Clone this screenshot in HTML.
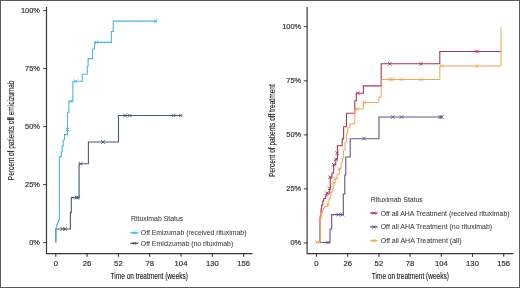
<!DOCTYPE html>
<html><head><meta charset="utf-8"><style>
html,body{margin:0;padding:0;background:#fff;}
body{width:520px;height:288px;overflow:hidden;}
.frame{position:absolute;left:0;top:0;width:518px;height:286px;border:1px solid #5a5a5a;}
svg{filter:blur(0.3px);position:absolute;left:0;top:0;font-family:"Liberation Sans", sans-serif;will-change:transform;-webkit-font-smoothing:antialiased;}
</style></head><body>
<svg width="520" height="288" viewBox="0 0 520 288">
<path d="M46.5,7V253.7H252.5" stroke="#383838" stroke-width="1.2" fill="none"/>
<path d="M43.2,10.6H46.5" stroke="#383838" stroke-width="1" fill="none"/>
<text x="39.9" y="13.1" text-anchor="end" font-size="7.4" fill="#333" stroke="#333" stroke-width="0.2">100%</text>
<path d="M43.2,68.6H46.5" stroke="#383838" stroke-width="1" fill="none"/>
<text x="39.9" y="71.1" text-anchor="end" font-size="7.4" fill="#333" stroke="#333" stroke-width="0.2">75%</text>
<path d="M43.2,126.6H46.5" stroke="#383838" stroke-width="1" fill="none"/>
<text x="39.9" y="129.1" text-anchor="end" font-size="7.4" fill="#333" stroke="#333" stroke-width="0.2">50%</text>
<path d="M43.2,184.6H46.5" stroke="#383838" stroke-width="1" fill="none"/>
<text x="39.9" y="187.1" text-anchor="end" font-size="7.4" fill="#333" stroke="#333" stroke-width="0.2">25%</text>
<path d="M43.2,242.6H46.5" stroke="#383838" stroke-width="1" fill="none"/>
<text x="39.9" y="245.1" text-anchor="end" font-size="7.4" fill="#333" stroke="#333" stroke-width="0.2">0%</text>
<path d="M55.80,253.7V256.8" stroke="#383838" stroke-width="1.1" fill="none"/>
<text x="55.80" y="266.2" text-anchor="middle" font-size="7.7" fill="#333" stroke="#333" stroke-width="0.2">0</text>
<path d="M87.10,253.7V256.8" stroke="#383838" stroke-width="1.1" fill="none"/>
<text x="87.10" y="266.2" text-anchor="middle" font-size="7.7" fill="#333" stroke="#333" stroke-width="0.2">26</text>
<path d="M118.40,253.7V256.8" stroke="#383838" stroke-width="1.1" fill="none"/>
<text x="118.40" y="266.2" text-anchor="middle" font-size="7.7" fill="#333" stroke="#333" stroke-width="0.2">52</text>
<path d="M149.70,253.7V256.8" stroke="#383838" stroke-width="1.1" fill="none"/>
<text x="149.70" y="266.2" text-anchor="middle" font-size="7.7" fill="#333" stroke="#333" stroke-width="0.2">78</text>
<path d="M181.00,253.7V256.8" stroke="#383838" stroke-width="1.1" fill="none"/>
<text x="181.00" y="266.2" text-anchor="middle" font-size="7.7" fill="#333" stroke="#333" stroke-width="0.2">104</text>
<path d="M212.30,253.7V256.8" stroke="#383838" stroke-width="1.1" fill="none"/>
<text x="212.30" y="266.2" text-anchor="middle" font-size="7.7" fill="#333" stroke="#333" stroke-width="0.2">130</text>
<path d="M243.60,253.7V256.8" stroke="#383838" stroke-width="1.1" fill="none"/>
<text x="243.60" y="266.2" text-anchor="middle" font-size="7.7" fill="#333" stroke="#333" stroke-width="0.2">156</text>
<text x="149.3" y="279" text-anchor="middle" font-size="9.5" fill="#222" stroke="#222" stroke-width="0.15" textLength="77.5" lengthAdjust="spacingAndGlyphs">Time on treatment (weeks)</text>
<text transform="translate(14.3,130.4) rotate(-90)" text-anchor="middle" font-size="9.5" fill="#222" stroke="#222" stroke-width="0.15" textLength="99.6" lengthAdjust="spacingAndGlyphs">Percent of patients off emicizumab</text>
<path d="M307.1,7V253.7H513.3" stroke="#383838" stroke-width="1.2" fill="none"/>
<path d="M303.8,26.7H307.1" stroke="#383838" stroke-width="1" fill="none"/>
<text x="301.1" y="29.0" text-anchor="end" font-size="7.4" fill="#333" stroke="#333" stroke-width="0.2">100%</text>
<path d="M303.8,80.8H307.1" stroke="#383838" stroke-width="1" fill="none"/>
<text x="301.1" y="83.1" text-anchor="end" font-size="7.4" fill="#333" stroke="#333" stroke-width="0.2">75%</text>
<path d="M303.8,134.9H307.1" stroke="#383838" stroke-width="1" fill="none"/>
<text x="301.1" y="137.20000000000002" text-anchor="end" font-size="7.4" fill="#333" stroke="#333" stroke-width="0.2">50%</text>
<path d="M303.8,188.9H307.1" stroke="#383838" stroke-width="1" fill="none"/>
<text x="301.1" y="191.20000000000002" text-anchor="end" font-size="7.4" fill="#333" stroke="#333" stroke-width="0.2">25%</text>
<path d="M303.8,243.0H307.1" stroke="#383838" stroke-width="1" fill="none"/>
<text x="301.1" y="245.3" text-anchor="end" font-size="7.4" fill="#333" stroke="#333" stroke-width="0.2">0%</text>
<path d="M316.50,253.7V256.8" stroke="#383838" stroke-width="1.1" fill="none"/>
<text x="316.50" y="266.2" text-anchor="middle" font-size="7.7" fill="#333" stroke="#333" stroke-width="0.2">0</text>
<path d="M347.70,253.7V256.8" stroke="#383838" stroke-width="1.1" fill="none"/>
<text x="347.70" y="266.2" text-anchor="middle" font-size="7.7" fill="#333" stroke="#333" stroke-width="0.2">26</text>
<path d="M378.90,253.7V256.8" stroke="#383838" stroke-width="1.1" fill="none"/>
<text x="378.90" y="266.2" text-anchor="middle" font-size="7.7" fill="#333" stroke="#333" stroke-width="0.2">52</text>
<path d="M410.10,253.7V256.8" stroke="#383838" stroke-width="1.1" fill="none"/>
<text x="410.10" y="266.2" text-anchor="middle" font-size="7.7" fill="#333" stroke="#333" stroke-width="0.2">78</text>
<path d="M441.30,253.7V256.8" stroke="#383838" stroke-width="1.1" fill="none"/>
<text x="441.30" y="266.2" text-anchor="middle" font-size="7.7" fill="#333" stroke="#333" stroke-width="0.2">104</text>
<path d="M472.50,253.7V256.8" stroke="#383838" stroke-width="1.1" fill="none"/>
<text x="472.50" y="266.2" text-anchor="middle" font-size="7.7" fill="#333" stroke="#333" stroke-width="0.2">130</text>
<path d="M503.70,253.7V256.8" stroke="#383838" stroke-width="1.1" fill="none"/>
<text x="503.70" y="266.2" text-anchor="middle" font-size="7.7" fill="#333" stroke="#333" stroke-width="0.2">156</text>
<text x="410.3" y="279" text-anchor="middle" font-size="9.5" fill="#222" stroke="#222" stroke-width="0.15" textLength="77" lengthAdjust="spacingAndGlyphs">Time on treatment (weeks)</text>
<text transform="translate(275.1,130.7) rotate(-90)" text-anchor="middle" font-size="9.5" fill="#222" stroke="#222" stroke-width="0.15" textLength="92.8" lengthAdjust="spacingAndGlyphs">Percent of patients off treatment</text>
<path d="M55.8,242.5V229H70.4V212.6H71.3V197.6H79.1V163.8H88.4V142H118.5V115.5H181.3" stroke="#465a72" stroke-width="1.1" fill="none"/>
<path d="M60.70,227.20L64.30,230.80M60.70,230.80L64.30,227.20" stroke="#465a72" stroke-width="0.9" fill="none"/>
<path d="M63.30,227.20L66.90,230.80M63.30,230.80L66.90,227.20" stroke="#465a72" stroke-width="0.9" fill="none"/>
<path d="M74.80,195.80L78.40,199.40M74.80,199.40L78.40,195.80" stroke="#465a72" stroke-width="0.9" fill="none"/>
<path d="M76.10,195.80L79.70,199.40M76.10,199.40L79.70,195.80" stroke="#465a72" stroke-width="0.9" fill="none"/>
<path d="M78.90,162.00L82.50,165.60M78.90,165.60L82.50,162.00" stroke="#465a72" stroke-width="0.9" fill="none"/>
<path d="M101.20,140.20L104.80,143.80M101.20,143.80L104.80,140.20" stroke="#465a72" stroke-width="0.9" fill="none"/>
<path d="M123.30,113.70L126.90,117.30M123.30,117.30L126.90,113.70" stroke="#465a72" stroke-width="0.9" fill="none"/>
<path d="M128.00,113.70L131.60,117.30M128.00,117.30L131.60,113.70" stroke="#465a72" stroke-width="0.9" fill="none"/>
<path d="M172.00,113.70L175.60,117.30M172.00,117.30L175.60,113.70" stroke="#465a72" stroke-width="0.9" fill="none"/>
<path d="M179.00,113.70L182.60,117.30M179.00,117.30L182.60,113.70" stroke="#465a72" stroke-width="0.9" fill="none"/>
<path d="M55.8,242.5V228H56.6V225H57.5V222H58.5V219.5H59.4V157H60.5V156.5H61.3V152H62.2V146H63.2V140H64.5V134.6H67.5V112.2H68.8V101.3H72.9V81.3H82.3V74.3H87.3V66.2H88.1V58.6H92.6V49H94.6V42.4H111.4V31.5H113.2V21.1H156.8" stroke="#4db6d8" stroke-width="1.1" fill="none"/>
<path d="M65.70,127.70L69.30,131.30M65.70,131.30L69.30,127.70" stroke="#4db6d8" stroke-width="0.9" fill="none"/>
<path d="M69.00,99.50L72.60,103.10M69.00,103.10L72.60,99.50" stroke="#4db6d8" stroke-width="0.9" fill="none"/>
<path d="M73.80,79.50L77.40,83.10M73.80,83.10L77.40,79.50" stroke="#4db6d8" stroke-width="0.9" fill="none"/>
<path d="M94.70,40.60L98.30,44.20M94.70,44.20L98.30,40.60" stroke="#4db6d8" stroke-width="0.9" fill="none"/>
<path d="M153.70,19.30L157.30,22.90M153.70,22.90L157.30,19.30" stroke="#4db6d8" stroke-width="0.9" fill="none"/>
<path d="M316.5,242.5H330V229H331.7V214.6H343.3V194H344.8V175H345.8V157H350.2V138.7H379V117H442" stroke="#66508c" stroke-width="1.1" fill="none"/>
<path d="M326.20,240.70L329.80,244.30M326.20,244.30L329.80,240.70" stroke="#66508c" stroke-width="0.9" fill="none"/>
<path d="M336.50,212.80L340.10,216.40M336.50,216.40L340.10,212.80" stroke="#66508c" stroke-width="0.9" fill="none"/>
<path d="M340.50,212.80L344.10,216.40M340.50,216.40L344.10,212.80" stroke="#66508c" stroke-width="0.9" fill="none"/>
<path d="M362.20,136.70L365.80,140.30M362.20,140.30L365.80,136.70" stroke="#66508c" stroke-width="0.9" fill="none"/>
<path d="M391.00,115.20L394.60,118.80M391.00,118.80L394.60,115.20" stroke="#66508c" stroke-width="0.9" fill="none"/>
<path d="M399.70,115.20L403.30,118.80M399.70,118.80L403.30,115.20" stroke="#66508c" stroke-width="0.9" fill="none"/>
<path d="M438.50,115.20L442.10,118.80M438.50,118.80L442.10,115.20" stroke="#66508c" stroke-width="0.9" fill="none"/>
<path d="M440.00,115.20L443.60,118.80M440.00,118.80L443.60,115.20" stroke="#66508c" stroke-width="0.9" fill="none"/>
<path d="M316.5,242.5H320V217H321V209H321.7V205H322.8V201H323.8V198.5H325.5V196H326.9V193.2H329.6V188.3H330.3V177.2H332V173H333.6V164.7H335.8V159.2H337.4V145.8H342.2V138.9H343.6V126.7H346.5V113.2H354.8V100.8H356.4V93.3H363.4V85.9H381.2V63.8H439.8V51.5H501" stroke="#ab3558" stroke-width="1.1" fill="none"/>
<path d="M325.10,191.40L328.70,195.00M325.10,195.00L328.70,191.40" stroke="#ab3558" stroke-width="0.9" fill="none"/>
<path d="M327.80,186.50L331.40,190.10M327.80,190.10L331.40,186.50" stroke="#ab3558" stroke-width="0.9" fill="none"/>
<path d="M328.20,175.40L331.80,179.00M328.20,179.00L331.80,175.40" stroke="#ab3558" stroke-width="0.9" fill="none"/>
<path d="M331.90,162.90L335.50,166.50M331.90,166.50L335.50,162.90" stroke="#ab3558" stroke-width="0.9" fill="none"/>
<path d="M334.00,157.40L337.60,161.00M334.00,161.00L337.60,157.40" stroke="#ab3558" stroke-width="0.9" fill="none"/>
<path d="M335.40,151.50L339.00,155.10M335.40,155.10L339.00,151.50" stroke="#ab3558" stroke-width="0.9" fill="none"/>
<path d="M356.20,91.50L359.80,95.10M356.20,95.10L359.80,91.50" stroke="#ab3558" stroke-width="0.9" fill="none"/>
<path d="M388.00,62.00L391.60,65.60M388.00,65.60L391.60,62.00" stroke="#ab3558" stroke-width="0.9" fill="none"/>
<path d="M419.20,62.00L422.80,65.60M419.20,65.60L422.80,62.00" stroke="#ab3558" stroke-width="0.9" fill="none"/>
<path d="M475.20,49.70L478.80,53.30M475.20,53.30L478.80,49.70" stroke="#ab3558" stroke-width="0.9" fill="none"/>
<path d="M316.5,242.5H320.4V217H321.5V213H322.5V210H323.5V208H324.8V206.5H327.5V204.6H328.2V201H329V198.3H330.8V192.4H332.4V188.3H333.7V182.8H335.1V178.6H337.2V174.4H339.3V168.9H341V163.3H342.3V158.3H343.6V150H345V141.7H346.4V133.3H347.8V127.8H349.9V123.9H354.8V109H363.4V102.4H378.8V97H381.2V79.5H439.8V66H501V27.3" stroke="#eea65a" stroke-width="1.0" fill="none"/>
<path d="M315.50,240.40L319.10,244.00M315.50,244.00L319.10,240.40" stroke="#eea65a" stroke-width="0.9" fill="none"/>
<path d="M318.80,215.20L322.40,218.80M318.80,218.80L322.40,215.20" stroke="#eea65a" stroke-width="0.9" fill="none"/>
<path d="M326.00,202.80L329.60,206.40M326.00,206.40L329.60,202.80" stroke="#eea65a" stroke-width="0.9" fill="none"/>
<path d="M331.90,181.00L335.50,184.60M331.90,184.60L335.50,181.00" stroke="#eea65a" stroke-width="0.9" fill="none"/>
<path d="M333.30,176.80L336.90,180.40M333.30,180.40L336.90,176.80" stroke="#eea65a" stroke-width="0.9" fill="none"/>
<path d="M337.50,167.10L341.10,170.70M337.50,170.70L341.10,167.10" stroke="#eea65a" stroke-width="0.9" fill="none"/>
<path d="M355.40,107.20L359.00,110.80M355.40,110.80L359.00,107.20" stroke="#eea65a" stroke-width="0.9" fill="none"/>
<path d="M362.40,100.60L366.00,104.20M362.40,104.20L366.00,100.60" stroke="#eea65a" stroke-width="0.9" fill="none"/>
<path d="M388.00,77.70L391.60,81.30M388.00,81.30L391.60,77.70" stroke="#eea65a" stroke-width="0.9" fill="none"/>
<path d="M391.20,77.70L394.80,81.30M391.20,81.30L394.80,77.70" stroke="#eea65a" stroke-width="0.9" fill="none"/>
<path d="M399.45,77.70L403.05,81.30M399.45,81.30L403.05,77.70" stroke="#eea65a" stroke-width="0.9" fill="none"/>
<path d="M419.20,77.70L422.80,81.30M419.20,81.30L422.80,77.70" stroke="#eea65a" stroke-width="0.9" fill="none"/>
<path d="M439.70,64.20L443.30,67.80M439.70,67.80L443.30,64.20" stroke="#eea65a" stroke-width="0.9" fill="none"/>
<path d="M475.00,64.20L478.60,67.80M475.00,67.80L478.60,64.20" stroke="#eea65a" stroke-width="0.9" fill="none"/>
<text x="131.1" y="221.2" font-size="7.2" fill="#383838" stroke="#383838" stroke-width="0.05" textLength="52.2" lengthAdjust="spacingAndGlyphs">Rituximab Status</text>
<path d="M130.5,232.8H138.3" stroke="#4db6d8" stroke-width="1.4" fill="none"/>
<path d="M133.00,231.40L135.80,234.20M133.00,234.20L135.80,231.40" stroke="#4db6d8" stroke-width="1.0" fill="none"/>
<text x="140.85" y="235.20000000000002" font-size="7.2" fill="#383838" stroke="#383838" stroke-width="0.05" textLength="105.6" lengthAdjust="spacingAndGlyphs">Off Emizumab (received rituximab)</text>
<path d="M130.5,243.3H138.3" stroke="#465a72" stroke-width="1.4" fill="none"/>
<path d="M133.00,241.90L135.80,244.70M133.00,244.70L135.80,241.90" stroke="#465a72" stroke-width="1.0" fill="none"/>
<text x="140.85" y="245.70000000000002" font-size="7.2" fill="#383838" stroke="#383838" stroke-width="0.05" textLength="92.4" lengthAdjust="spacingAndGlyphs">Off Emicizumab (no rituximab)</text>
<text x="370.8" y="201.8" font-size="7.3" fill="#383838" stroke="#383838" stroke-width="0.05" textLength="52.0" lengthAdjust="spacingAndGlyphs">Rituximab Status</text>
<path d="M370.2,213.1H377.5" stroke="#ab3558" stroke-width="1.4" fill="none"/>
<path d="M372.45,211.70L375.25,214.50M372.45,214.50L375.25,211.70" stroke="#ab3558" stroke-width="1.0" fill="none"/>
<text x="380.70000000000005" y="215.5" font-size="7.3" fill="#383838" stroke="#383838" stroke-width="0.05" textLength="128.9" lengthAdjust="spacingAndGlyphs">Off all AHA Treatment (received rituximab)</text>
<path d="M370.2,226.9H377.5" stroke="#66508c" stroke-width="1.4" fill="none"/>
<path d="M372.45,225.50L375.25,228.30M372.45,228.30L375.25,225.50" stroke="#66508c" stroke-width="1.0" fill="none"/>
<text x="380.70000000000005" y="229.3" font-size="7.3" fill="#383838" stroke="#383838" stroke-width="0.05" textLength="111.4" lengthAdjust="spacingAndGlyphs">Off all AHA Treatment (no rituximab)</text>
<path d="M370.2,240.6H377.5" stroke="#eea65a" stroke-width="1.4" fill="none"/>
<path d="M372.45,239.20L375.25,242.00M372.45,242.00L375.25,239.20" stroke="#eea65a" stroke-width="1.0" fill="none"/>
<text x="380.70000000000005" y="243.0" font-size="7.3" fill="#383838" stroke="#383838" stroke-width="0.05" textLength="80.8" lengthAdjust="spacingAndGlyphs">Off all AHA Treatment (all)</text>
</svg>
<div class="frame"></div>
</body></html>
